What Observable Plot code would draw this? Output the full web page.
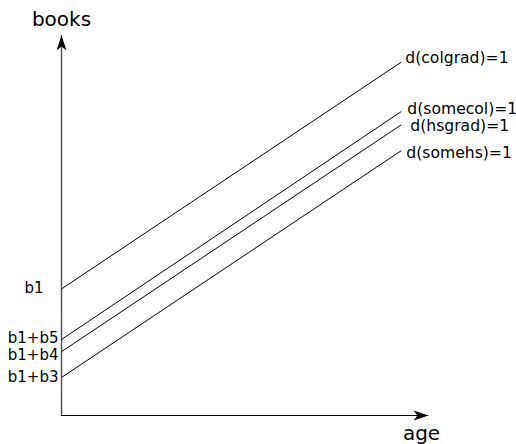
<!DOCTYPE html>
<html>
<head>
<meta charset="utf-8">
<script src="https://cdn.jsdelivr.net/npm/d3@7"></script>
<script src="https://cdn.jsdelivr.net/npm/@observablehq/plot@0.6"></script>
<style>
  html, body { margin: 0; padding: 0; background: #fff; }
  svg { font-family: "DejaVu Sans", sans-serif; }
</style>
</head>
<body>
<div id="chart"></div>
<script>
// ---- data ----
const groups = ["d(colgrad)=1", "d(somecol)=1", "d(hsgrad)=1", "d(somehs)=1"];
const interceptLabels = ["b1", "b1+b5", "b1+b4", "b1+b3"];
const ageStart = [0, 0, 0, 0];
const ageEnd = [10, 10, 10, 10];
const booksStart = [3.33, 2.0, 1.68, 1.0];
const booksEnd = [9.3, 8.0, 7.65, 6.97];
const xMax = 10.8;
const yMax = 10;

// ---- build table ----
const segs = groups.map((g, i) => ({
  group: g, label: interceptLabels[i],
  x1: ageStart[i], x2: ageEnd[i], y1: booksStart[i], y2: booksEnd[i]
}));

// stealth arrowhead symbol (tip at origin, pointing up)
const arrowHead = {
  draw(ctx, size) {
    ctx.moveTo(0, 0);
    ctx.lineTo(5, 15);
    ctx.lineTo(0, 11);
    ctx.lineTo(-5, 15);
    ctx.closePath();
  }
};

const leftDx = [-18, -3, -3, -3];
const leftDy = [-1, -1, 4, 0];
const rightDx = [4, 6, 9, 5];
const rightDy = [-4, -3, 1, 2];

const marks = [
  Plot.ruleX([0], {y1: 0, y2: yMax, stroke: "#555", strokeWidth: 1.5}),
  Plot.ruleY([0], {x1: 0, x2: xMax, stroke: "#000", strokeWidth: 1.2}),
  Plot.dot([{x: 0, y: yMax}], {x: "x", y: "y", symbol: arrowHead, r: 5, fill: "#000", stroke: "none", rotate: 0}),
  Plot.dot([{x: xMax, y: 0}], {x: "x", y: "y", symbol: arrowHead, r: 5, fill: "#000", stroke: "none", rotate: 90}),
  Plot.link(segs, {x1: "x1", y1: "y1", x2: "x2", y2: "y2", stroke: "#000", strokeWidth: 1}),
  Plot.text(["books"], {x: 0, y: yMax, text: d => d, fontSize: 20, lineAnchor: "bottom", dy: -10, fill: "#000"}),
  Plot.text(["age"], {x: xMax, y: 0, text: d => d, fontSize: 20, lineAnchor: "bottom", dy: 24, dx: -7, fill: "#000"})
];
segs.forEach((s, i) => {
  marks.push(Plot.text([s], {x: "x1", y: "y1", text: "label", textAnchor: "end", fontSize: 15, dx: leftDx[i], dy: leftDy[i], fill: "#000"}));
  marks.push(Plot.text([s], {x: "x2", y: "y2", text: "group", textAnchor: "start", fontSize: 15.6, dx: rightDx[i], dy: rightDy[i], fill: "#000"}));
});

const chart = Plot.plot({
  width: 516,
  height: 444,
  marginLeft: 61,
  marginRight: 88,
  marginTop: 35,
  marginBottom: 29,
  x: {domain: [0, xMax], axis: null},
  y: {domain: [0, yMax], axis: null},
  style: {fontFamily: "DejaVu Sans, sans-serif", background: "#fff"},
  marks
});
document.getElementById("chart").appendChild(chart);
</script>
</body>
</html>
